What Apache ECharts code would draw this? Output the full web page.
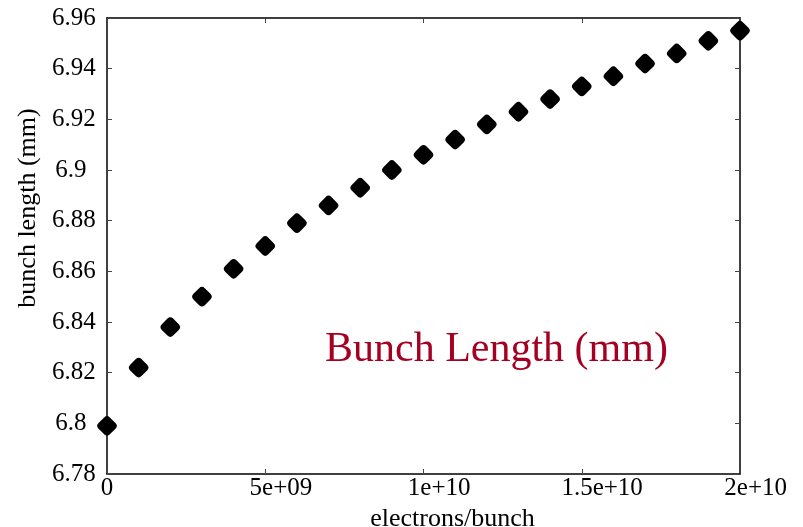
<!DOCTYPE html>
<html>
<head>
<meta charset="utf-8">
<script src="https://cdn.jsdelivr.net/npm/echarts@6/dist/echarts.min.js"></script>
<style>
  html, body { margin: 0; padding: 0; background: #fff; }
  #chart { width: 803px; height: 527px; }
</style>
</head>
<body>
<div id="chart"></div>
<script>
// electrons per bunch
const electrons = [0, 1e9, 2e9, 3e9, 4e9, 5e9, 6e9, 7e9, 8e9, 9e9, 1e10,
  1.1e10, 1.2e10, 1.3e10, 1.4e10, 1.5e10, 1.6e10, 1.7e10, 1.8e10, 1.9e10, 2e10];
// bunch length (mm)
const bunchLength = [6.799, 6.822, 6.838, 6.850, 6.861, 6.870, 6.879, 6.886, 6.893, 6.900, 6.906,
  6.912, 6.918, 6.923, 6.928, 6.933, 6.937, 6.942, 6.946, 6.951, 6.955];
const xTickLabels = ['0', '5e+09', '1e+10', '1.5e+10', '2e+10'];
const yTickLabels = ['6.78', '6.8', '6.82', '6.84', '6.86', '6.88', '6.9', '6.92', '6.94', '6.96'];

const serif = '"Liberation Serif", "DejaVu Serif", serif';
const tickFont = 25;

// the original plot places longer labels about a quarter of their width off the anchor,
// a left padding of half the width reproduces that with centred text
const ctx = document.createElement('canvas').getContext('2d');
ctx.font = tickFont + 'px ' + serif;
function shiftedRich(labels, prefix) {
  let rich = {};
  labels.forEach((t, i) => {
    let w = ctx.measureText(t).width;
    rich[prefix + i] = {
      fontFamily: serif, fontSize: tickFont, color: '#000',
      padding: [0, 0, 0, w > 20 ? w / 2 : 0]
    };
  });
  return rich;
}

let chart = echarts.init(document.getElementById('chart'));

const axisBase = {
  axisLine: { show: true, onZero: false, lineStyle: { color: '#000', width: 1.5 } },
  axisTick: { show: true, inside: true, length: 5, lineStyle: { color: '#444', width: 1 } },
  splitLine: { show: false }
};

let option = {
  animation: false,
  backgroundColor: '#fff',
  grid: { left: 107, right: 63, top: 18, bottom: 53, outerBoundsMode: 'none', containLabel: false },
  xAxis: [
    Object.assign({}, axisBase, {
      type: 'value', min: 0, max: 2e10, interval: 5e9,
      name: 'electrons/bunch', nameLocation: 'middle', nameGap: 29,
      nameTextStyle: { fontFamily: serif, fontSize: 26, color: '#000', padding: [0, 0, 0, 58] },
      axisLabel: {
        margin: 2, align: 'center',
        formatter: v => {
          let i = Math.round(v / 5e9);
          return '{x' + i + '|' + xTickLabels[i] + '}';
        },
        rich: shiftedRich(xTickLabels, 'x')
      }
    }),
    Object.assign({}, axisBase, {
      type: 'value', position: 'top', min: 0, max: 2e10, interval: 5e9,
      axisLabel: { show: false }
    })
  ],
  yAxis: [
    Object.assign({}, axisBase, {
      type: 'value', min: 6.78, max: 6.96, interval: 0.02,
      name: 'bunch length (mm)', nameLocation: 'middle', nameGap: 65,
      nameTextStyle: { fontFamily: serif, fontSize: 26, color: '#000', padding: [0, 0, 0, 76] },
      axisLabel: {
        margin: 44, align: 'center',
        formatter: v => {
          let i = Math.round((v - 6.78) / 0.02);
          return '{y' + i + '|' + yTickLabels[i] + '}';
        },
        rich: shiftedRich(yTickLabels, 'y')
      }
    }),
    Object.assign({}, axisBase, {
      type: 'value', position: 'right', min: 6.78, max: 6.96, interval: 0.02,
      axisLabel: { show: false }
    })
  ],
  graphic: [{
    type: 'text',
    left: 325,
    top: 329,
    style: {
      text: 'Bunch Length (mm)',
      font: '42px ' + serif,
      fill: '#A50021'
    }
  }],
  series: [{
    type: 'scatter',
    data: electrons.map((x, i) => [x, bunchLength[i]]),
    symbol: 'roundRect',
    symbolSize: 16,
    symbolRotate: 45,
    clip: false,
    itemStyle: { color: '#000', opacity: 1 }
  }]
};

chart.setOption(option);
</script>
</body>
</html>
